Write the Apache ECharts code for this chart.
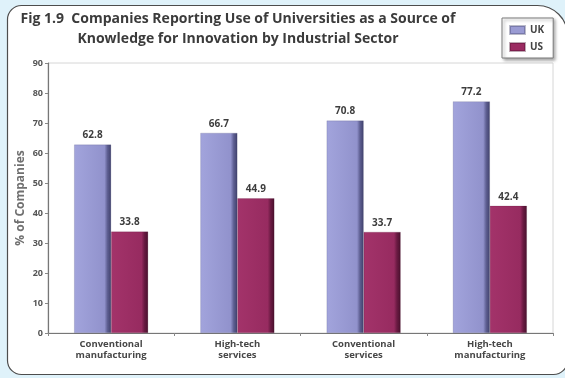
<!DOCTYPE html>
<html>
<head>
<meta charset="utf-8">
<script src="https://cdn.jsdelivr.net/npm/echarts@6/dist/echarts.min.js"></script>
<style>
  html, body { margin: 0; padding: 0; background: #dff2fa; }
  #chart { width: 565px; height: 378px; }
</style>
</head>
<body>
<div id="chart"></div>
<script>
// Sectors and the share of companies (%) citing universities as a knowledge source
const categories = ['Conventional\nmanufacturing', 'High-tech\nservices', 'Conventional\nservices', 'High-tech\nmanufacturing'];
const ukValues = [62.8, 66.7, 70.8, 77.2];
const usValues = [33.8, 44.9, 33.7, 42.4];
const yTicks = [0, 10, 20, 30, 40, 50, 60, 70, 80, 90];

const FONT = '"Open Sans", "Liberation Sans", sans-serif';

// Horizontal gradient that darkens toward the right edge for a shaded, boxy look
function shaded(light, mid, dark, darkest) {
  return new echarts.graphic.LinearGradient(0, 0, 1, 0, [
    { offset: 0, color: light },
    { offset: 0.82, color: mid },
    { offset: 0.9, color: dark },
    { offset: 1, color: darkest }
  ]);
}

const chart = echarts.init(document.getElementById('chart'), null, { renderer: 'canvas' });

chart.setOption({
  backgroundColor: '#dff2fa',
  animation: false,
  textStyle: { fontFamily: FONT },
  graphic: [
    {
      type: 'rect',
      z: -10,
      shape: { x: 7.5, y: 5.5, width: 560, height: 369, r: [14, 30, 14, 14] },
      style: { fill: '#ffffff', stroke: '#4d4d4d', lineWidth: 1.2 }
    },
    {
      type: 'text',
      x: 238,
      y: 9,
      style: {
        text: 'Fig 1.9  Companies Reporting Use of Universities as a Source of\nKnowledge for Innovation by Industrial Sector',
        fill: '#3b3b3b',
        font: 'bold 14px ' + FONT,
        align: 'center',
        lineHeight: 20
      }
    }
  ],
  legend: {
    orient: 'vertical',
    left: 502,
    top: 18,
    width: 40,
    padding: [7, 9, 6, 7],
    itemGap: 7,
    itemWidth: 15,
    itemHeight: 8,
    icon: 'rect',
    backgroundColor: '#ffffff',
    borderColor: '#7a7a7a',
    borderWidth: 1,
    borderRadius: 0,
    shadowColor: 'rgba(0,0,0,0.35)',
    shadowBlur: 3,
    shadowOffsetX: 2,
    shadowOffsetY: 2,
    textStyle: { fontFamily: FONT, fontWeight: 'bold', fontSize: 10, color: '#444' },
    data: [
      { name: 'UK', itemStyle: { color: '#9a9bd3' } },
      { name: 'US', itemStyle: { color: '#9b2b62' } }
    ]
  },
  grid: {
    left: 48, right: 12, top: 63, bottom: 45,
    show: true,
    borderColor: '#d6d6d6',
    borderWidth: 1,
    backgroundColor: 'transparent'
  },
  xAxis: {
    type: 'category',
    data: categories,
    axisLine: { lineStyle: { color: '#777', width: 1.2 } },
    axisTick: { show: true, length: 3, lineStyle: { color: '#888' } },
    axisLabel: {
      color: '#474747',
      fontWeight: 'bold',
      fontSize: 9.5,
      lineHeight: 11,
      margin: 6
    }
  },
  yAxis: {
    type: 'value',
    min: 0,
    max: 90,
    interval: 10,
    name: '% of Companies',
    nameLocation: 'middle',
    nameGap: 21,
    nameMoveOverlap: false,
    nameTextStyle: { color: '#707070', fontWeight: 'bold', fontSize: 12 },
    axisLine: { show: true, lineStyle: { color: '#777', width: 1.2 } },
    axisTick: { show: true, inside: false, length: 3, lineStyle: { color: '#888' } },
    splitLine: { show: false },
    axisLabel: {
      color: '#555',
      fontWeight: 'bold',
      fontSize: 9,
      margin: 5,
      formatter: v => yTicks.includes(v) ? String(v) : ''
    }
  },
  series: [
    {
      name: 'UK',
      type: 'bar',
      data: ukValues,
      barWidth: 37,
      barGap: '0%',
      itemStyle: {
        color: shaded('#a2a4dc', '#9192cc', '#5e5f92', '#3f406b'),
        borderColor: 'rgba(60,60,100,0.35)',
        borderWidth: 0.5
      },
      label: {
        show: true,
        position: 'top',
        distance: 4,
        color: '#3d3d3d',
        fontWeight: 'bold',
        fontSize: 10,
        formatter: p => p.value.toFixed(1)
      }
    },
    {
      name: 'US',
      type: 'bar',
      data: usValues,
      barWidth: 37,
      barGap: '0%',
      itemStyle: {
        color: shaded('#a3336a', '#972b60', '#6a1a42', '#48102d'),
        borderColor: 'rgba(70,10,40,0.35)',
        borderWidth: 0.5
      },
      label: {
        show: true,
        position: 'top',
        distance: 4,
        color: '#3d3d3d',
        fontWeight: 'bold',
        fontSize: 10,
        formatter: p => p.value.toFixed(1)
      }
    }
  ]
});
</script>
</body>
</html>
